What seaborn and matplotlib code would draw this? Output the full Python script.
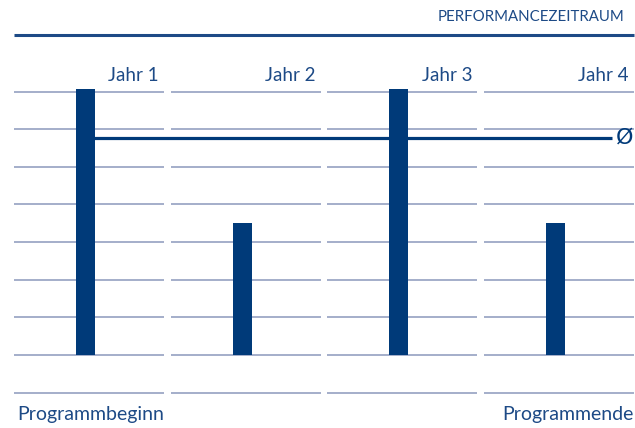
import matplotlib
matplotlib.use("Agg")
import matplotlib.pyplot as plt
import seaborn as sns
import pandas as pd
import numpy as np

# data
years = ["Jahr 1", "Jahr 2", "Jahr 3", "Jahr 4"]
performance = [7.07, 3.52, 7.07, 3.52]
average = 5.77
grid_levels = [-1, 0, 1, 2, 3, 4, 5, 6, 7]
header = "PERFORMANCEZEITRAUM"
start_label = "Programmbeginn"
end_label = "Programmende"

navy = "#003a79"
text_blue = "#1d4a86"
grid_col = "#a4aeca"

sns.set_style("white")
plt.rcParams["font.family"] = ["Lato", "DejaVu Sans"]

df = pd.DataFrame({"Jahr": years, "Wert": performance})

fig = plt.figure(figsize=(6.35, 4.28), dpi=100)
ax = fig.add_axes([0, 0, 1, 1])

# column extents (category units)
col_left, col_right = -0.456, 0.5
pos = np.arange(len(years))

# per-column gridlines
for lv in grid_levels:
    ax.hlines([lv] * len(years), pos + col_left, pos + col_right,
              color=grid_col, linewidth=1.4, zorder=1)

# average line
ax.hlines(average, 0, 3.36, color=navy, linewidth=2.3, zorder=2)
ax.text(3.44, average, "Ø", ha="center", va="center", fontsize=16,
        color=navy, family=["DejaVu Sans"])

sns.barplot(data=df, x="Jahr", y="Wert", order=years, color=navy,
            width=0.122, saturation=1, linewidth=0, edgecolor=navy,
            ax=ax, zorder=3)

# header rule
ax.hlines(8.505, col_left, 3.5, color=text_blue, linewidth=2.2)
ax.text(3.44, 8.87, header, ha="right", va="baseline", fontsize=10.8,
        color=text_blue)

for i, y in enumerate(years):
    ax.text(i + 0.468, 7.27, y, ha="right", va="baseline", fontsize=13.5,
            color=text_blue)

ax.text(-0.437, -1.72, start_label, ha="left", va="baseline", fontsize=14,
        color=text_blue)
ax.text(3.497, -1.72, end_label, ha="right", va="baseline", fontsize=14,
        color=text_blue)

ax.set_xlim(-0.5456, 3.507)
ax.set_ylim(-1.94, 9.434)
ax.axis("off")

fig.savefig("out.png", dpi=100)
